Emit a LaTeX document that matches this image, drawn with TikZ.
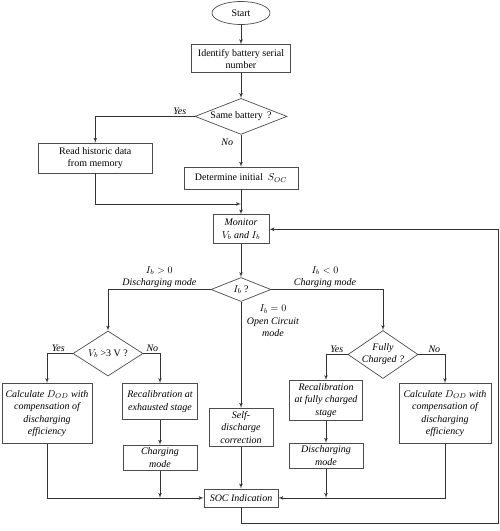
\documentclass[tikz,border=0pt]{standalone}
\usepackage{fontspec}
\setmainfont{Liberation Serif}
\usetikzlibrary{shapes.geometric, arrows, positioning, calc}

\begin{document}
\begin{tikzpicture}[
        x=1pt, y=1pt,
        font=\fontsize{10}{12}\selectfont,
        >=latex,
        block/.style={rectangle, draw=black!70, line width=0.7pt, align=center, inner sep=1pt},
        itblock/.style={block, font=\fontsize{10}{12.5}\selectfont\itshape},
        decision/.style={diamond, draw=black!70, line width=0.7pt, align=center, inner sep=0pt},
        startstop/.style={ellipse, draw=black!70, line width=0.7pt, minimum width=58pt, minimum height=23pt, inner sep=0pt},
        lbl/.style={font=\fontsize{10}{12.5}\selectfont\itshape, inner sep=1.5pt, align=center},
        line/.style={draw=black!80, line width=0.7pt, -latex'}
    ]
        \useasboundingbox (0,0) rectangle (500,-531);

        % Start and battery check
        \node [startstop] (start) at (241,-13) {Start};
        \node [block, minimum width=99pt, minimum height=28pt, below=19.5pt of start] (identify) {Identify battery serial\\number};
        \node [decision, aspect=2.5, minimum width=92pt, minimum height=36pt, below=25pt of identify] (same) {Same battery \,?};
        \node [block, minimum width=114pt, minimum height=22pt, below=32pt of same] (determine) {Determine initial \ $S_{OC}$};
        \node [block, minimum width=114pt, minimum height=30pt, left=31pt of determine, yshift=20pt] (read) {Read historic data\\from memory};

        % Monitoring
        \node [itblock, minimum width=56pt, minimum height=29pt, below=25pt of determine] (monitor) {Monitor\\$V_b$ and $I_b$};
        \coordinate (j1) at ($(determine.south)!0.58!(monitor.north)$);
        \node [decision, aspect=2.5, minimum width=60pt, minimum height=24pt, below=33pt of monitor] (ib) {$I_b$ ?};

        % Discharging branch
        \node [decision, aspect=1.5, minimum width=70pt, minimum height=45pt] (vb) at ($(ib)+(-133,-64)$) {$V_b$ >3 V ?};
        \node [itblock, minimum width=90pt, minimum height=60pt] (calcL) at ($(vb)+(-61,-60)$) {Calculate $D_{OD}$ with\\compensation of\\discharging\\efficiency};
        \node [itblock, minimum width=75pt, minimum height=36pt] (recalE) at ($(vb)+(52,-48)$) {Recalibration at\\exhausted stage};
        \node [itblock, minimum width=74pt, minimum height=25pt, below=25pt of recalE] (chargE) {Charging\\mode};

        % Open circuit branch
        \node [itblock, minimum width=64pt, minimum height=38pt, below=106pt of ib] (selfdis) {Self-\\discharge\\correction};
        \node [itblock, minimum width=74pt, minimum height=18pt, below=42pt of selfdis] (soc) {SOC Indication};

        % Charging branch
        \node [decision, font=\fontsize{10}{12}\selectfont\itshape, aspect=1.46, inner ysep=-2pt, minimum width=70pt, minimum height=48pt] (fc) at ($(ib)+(142,-65)$) {Fully\\Charged ?};
        \node [itblock, minimum width=73pt, minimum height=40pt] (recalF) at ($(fc)+(-57,-46)$) {Recalibration\\at fully charged\\stage};
        \node [itblock, minimum width=74pt, minimum height=25pt, below=22pt of recalF] (dischF) {Discharging\\mode};
        \node [itblock, minimum width=92pt, minimum height=60pt] (calcR) at ($(fc)+(62,-59)$) {Calculate $D_{OD}$ with\\compensation of\\discharging\\efficiency};

        % Loop back
        \coordinate [below=16pt of soc] (loopb);
        \coordinate [right=7pt of calcR.east] (rail);

        % Paths
        \path [line] (start) -- (identify);
        \path [line] (identify) -- (same);
        \path [line] (same) -- node[lbl, left=6pt, pos=0.25] {No} (determine);
        \path [line] (same) -| node[lbl, above, pos=0.075] {Yes} (read);
        \path [line] (determine) -- (monitor);
        \path [line] (read) |- (j1);
        \path [line] (monitor) -- (ib);
        % Current sign
        \path [line] (ib) -| node[lbl, above, pos=0.25] {$I_b>0$\\Discharging mode} (vb);
        \path [line] (ib) -| node[lbl, above, pos=0.24] {$I_b<0$\\Charging mode} (fc);
        \path [line] (ib) -- node[lbl, right=4pt, pos=0.18] {$I_b=0$\\Open Circuit\\mode} (selfdis);
        % Discharging
        \path [line] (vb) -| node[lbl, above, pos=0.28] {Yes} (calcL);
        \path [line] (vb) -| node[lbl, above, pos=0.27] {No} (recalE);
        \path [line] (recalE) -- (chargE);
        % Charging
        \path [line] (fc) -| node[lbl, above, pos=0.25] {Yes} (recalF);
        \path [line] (fc) -| node[lbl, above, pos=0.3] {No} (calcR);
        \path [line] (recalF) -- (dischF);
        % SOC
        \path [line] (calcL) |- (soc);
        \path [line] (chargE) -- (chargE |- soc);
        \path [line] (selfdis) -- (soc);
        \path [line] (calcR) |- (soc);
        \path [line] (dischF) -- (dischF |- soc);
        \path [line] (soc) -- (loopb) -| (rail) |- (monitor);

    \end{tikzpicture}
\end{document}
